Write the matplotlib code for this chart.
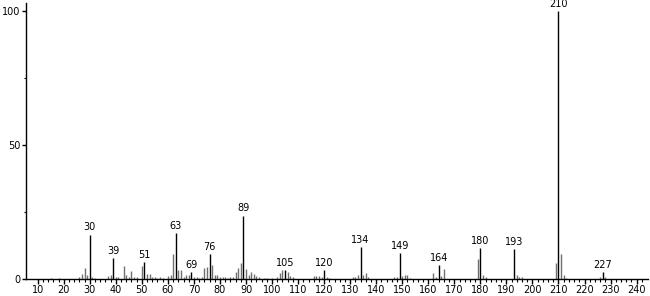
import matplotlib
matplotlib.use('Agg')
import matplotlib.pyplot as plt
import numpy as np

# m/z and relative intensity
mz = [15, 18, 26, 27, 28, 29, 30, 31, 32, 37, 38, 39, 40, 41, 43, 44, 45, 46, 47, 48,
      50, 51, 52, 53, 54, 55, 56, 57, 58, 60, 61, 62, 63, 64, 65, 66, 67, 68, 69, 70,
      71, 72, 73, 74, 75, 76, 77, 78, 79, 80, 81, 82, 83, 84, 85, 86, 87, 88, 89, 90,
      91, 92, 93, 94, 95, 97, 98, 100, 102, 103, 104, 105, 106, 107, 108, 116, 117, 118,
      119, 120, 121, 122, 131, 132, 133, 134, 135, 136, 137, 147, 148, 149, 150, 151,
      152, 153, 162, 163, 164, 165, 166, 179, 180, 181, 182, 193, 194, 195, 196, 209,
      210, 211, 212, 213, 226, 227, 228]
intensity = [0.4, 0.3, 0.6, 1.8, 4.0, 1.5, 16.5, 0.5, 0.3, 1.0, 1.5, 7.8, 0.8, 0.8, 4.6,
             1.5, 0.6, 2.7, 0.5, 0.5, 4.7, 6.2, 1.6, 1.6, 0.6, 0.5, 0.4, 0.5, 0.3, 1.0,
             1.5, 9.4, 16.9, 3.2, 3.2, 0.8, 1.2, 1.5, 2.5, 0.6, 0.5, 0.4, 0.7, 4.0, 4.5,
             9.3, 5.0, 1.5, 1.2, 0.8, 0.6, 0.5, 0.4, 0.5, 0.6, 2.5, 4.0, 5.7, 23.6, 3.7,
             1.2, 2.6, 1.6, 1.0, 0.8, 0.4, 0.4, 0.4, 0.5, 2.2, 3.1, 3.1, 2.5, 1.0, 0.5,
             1.0, 1.1, 1.0, 0.5, 3.2, 0.6, 0.4, 0.5, 0.6, 1.5, 11.7, 1.5, 2.0, 0.6, 0.5,
             0.6, 9.7, 1.0, 1.3, 1.3, 0.4, 2.0, 0.6, 5.0, 1.0, 3.5, 7.2, 11.3, 1.3, 0.6,
             11.2, 1.5, 0.5, 0.5, 5.7, 100.0, 9.4, 1.3, 0.4, 0.5, 2.5, 0.5]

labelled = [30, 39, 51, 63, 69, 76, 89, 105, 120, 134, 149, 164, 180, 193, 210, 227]

mz = np.array(mz)
intensity = np.array(intensity)
is_lab = np.isin(mz, labelled)

fig = plt.figure(figsize=(6.5, 2.96), dpi=100)
ax = fig.add_axes([0.04, 0.0585, 0.957, 0.931])

ax.vlines(mz[~is_lab], 0, intensity[~is_lab], color='#707070', lw=1.0)
ax.vlines(mz[is_lab], 0, intensity[is_lab], color='black', lw=1.0)

for m in labelled:
    h = intensity[mz == m][0]
    ax.text(m, h + 0.8, str(m), ha='center', va='bottom', fontsize=7)

ax.set_xlim(5.5, 244.4)
ax.set_ylim(0, 103)
for s in ['top', 'right']:
    ax.spines[s].set_visible(False)
ax.spines['left'].set_linewidth(1.0)
ax.spines['bottom'].set_linewidth(1.0)

ax.set_xticks(np.arange(10, 241, 10))
ax.set_xticks(np.arange(10, 244, 2), minor=True)
ax.set_yticks([0, 50, 100])
ax.set_yticks([25, 75], minor=True)
ax.tick_params(axis='x', which='major', direction='out', length=3.5, width=1, labelsize=7, pad=1)
ax.tick_params(axis='x', which='minor', direction='out', length=2.5, width=0.8)
ax.tick_params(axis='y', which='major', direction='out', length=3, width=1, labelsize=7, pad=1)
ax.tick_params(axis='y', which='minor', direction='out', length=1.5, width=0.8)

fig.savefig('out.png', dpi=100)
